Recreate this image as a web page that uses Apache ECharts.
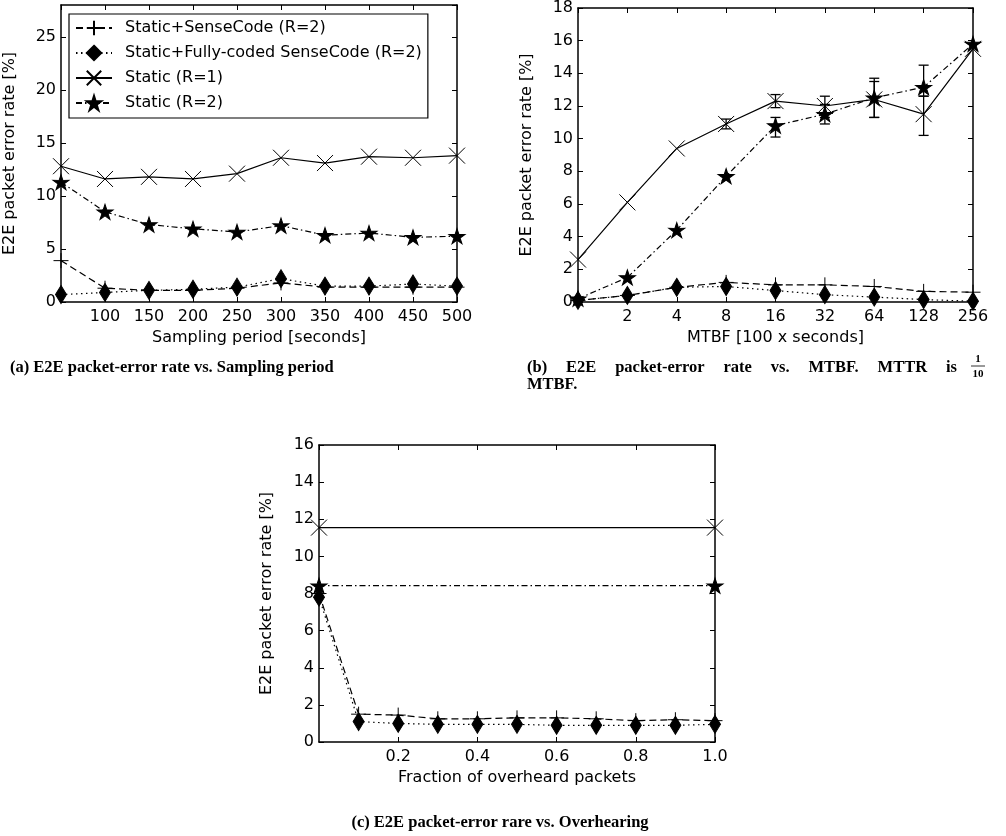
<!DOCTYPE html>
<html>
<head>
<meta charset="utf-8">
<script src="https://cdn.jsdelivr.net/npm/echarts@6/dist/echarts.min.js"></script>
<style>
	html, body { margin: 0; padding: 0; background: #fff; }
	#main { width: 1006px; height: 836px; }
</style>
</head>
<body>
<div id="main"></div>
<script>
// (a) sampling period
var samplingPeriods = [50, 100, 150, 200, 250, 300, 350, 400, 450, 500];
var aSenseCode = [3.9, 1.3, 1.1, 1.1, 1.3, 1.8, 1.4, 1.4, 1.4, 1.4];
var aFullyCoded = [0.7, 0.9, 1.1, 1.2, 1.4, 2.2, 1.5, 1.5, 1.7, 1.5];
var aStaticR1 = [12.8, 11.6, 11.8, 11.6, 12.1, 13.6, 13.1, 13.7, 13.6, 13.8];
var aStaticR2 = [11.3, 8.5, 7.3, 6.9, 6.6, 7.2, 6.3, 6.5, 6.1, 6.2];

// (b) MTBF [100 x seconds]
var mtbf = ['1', '2', '4', '8', '16', '32', '64', '128', '256'];
var bSenseCode = [0.1, 0.4, 0.9, 1.2, 1.05, 1.05, 0.95, 0.65, 0.6];
var bFullyCoded = [0.1, 0.4, 0.9, 0.95, 0.7, 0.45, 0.3, 0.15, 0.05];
var bStaticR1 = [2.6, 6.1, 9.4, 10.9, 12.3, 12.0, 12.4, 11.5, 15.5];
var bStaticR2 = [0.2, 1.5, 4.4, 7.7, 10.8, 11.5, 12.5, 13.15, 15.8];
// error bars: [category, low, high]
var bStaticR1Err = [[3, 10.6, 11.2], [4, 11.9, 12.7], [5, 11.3, 12.6], [6, 11.3, 13.5], [7, 10.2, 12.6]];
var bStaticR2Err = [[4, 10.1, 11.3], [5, 10.9, 12.1], [6, 11.3, 13.7], [7, 12.6, 14.5]];

// (c) fraction of overheard packets
var fraction = [0, 0.1, 0.2, 0.3, 0.4, 0.5, 0.6, 0.7, 0.8, 0.9, 1.0];
var cSenseCode = [8.0, 1.5, 1.45, 1.25, 1.25, 1.3, 1.3, 1.25, 1.15, 1.2, 1.15];
var cFullyCoded = [7.8, 1.1, 1.0, 0.95, 0.95, 0.95, 0.9, 0.9, 0.9, 0.9, 0.95];
var cStaticFraction = [0, 1.0];
var cStaticR1 = [11.55, 11.55];
var cStaticR2 = [8.42, 8.42];

var names = ['Static+SenseCode (R=2)', 'Static+Fully-coded SenseCode (R=2)', 'Static (R=1)', 'Static (R=2)'];

var FONT = 'DejaVu Sans';
var CAPTION_FONT = 'bold 16.5px "Liberation Serif"';

var PLUS = 'path://M0,50L100,50M50,0L50,100';
var CROSS = 'path://M0,0L100,100M0,100L100,0';
var STAR = 'path://M50,0L61.2,34.6L97.6,34.5L68.1,55.9L79.4,90.5L50,69L20.6,90.5L31.9,55.9L2.4,34.5L38.8,34.6Z';

var styles = [
	{ symbol: PLUS, size: 15, dash: [7, 4] },
	{ symbol: 'diamond', size: [11, 18], dash: [1.5, 3.5] },
	{ symbol: CROSS, size: 16, dash: 'solid' },
	{ symbol: STAR, size: [16, 15], dash: [6, 3, 1.5, 3] }
];

function zip(xs, ys) {
	var out = [];
	for (var i = 0; i < xs.length; i++) {
		out.push([xs[i], ys[i]]);
	}
	return out;
}

function lineSeries(k, data, xi, yi) {
	var s = styles[k];
	return {
		name: names[k],
		type: 'line',
		xAxisIndex: xi,
		yAxisIndex: yi,
		data: data,
		symbol: s.symbol,
		symbolSize: s.size,
		showAllSymbol: true,
		color: '#000',
		lineStyle: { color: '#000', width: 1.2, type: s.dash },
		itemStyle: { color: '#000', borderColor: '#000', borderWidth: 1 },
		z: 3 + k
	};
}

function errSeries(data, xi, yi) {
	return {
		type: 'custom',
		xAxisIndex: xi,
		yAxisIndex: yi,
		data: data,
		encode: { x: 0, y: [1, 2] },
		z: 10,
		renderItem: function(params, api) {
			var lo = api.coord([api.value(0), api.value(1)]);
			var hi = api.coord([api.value(0), api.value(2)]);
			var w = 5;
			var st = { stroke: '#000', lineWidth: 1.3 };
			return {
				type: 'group',
				children: [
					{ type: 'line', shape: { x1: lo[0], y1: lo[1], x2: hi[0], y2: hi[1] }, style: st },
					{ type: 'line', shape: { x1: lo[0] - w, y1: lo[1], x2: lo[0] + w, y2: lo[1] }, style: st },
					{ type: 'line', shape: { x1: hi[0] - w, y1: hi[1], x2: hi[0] + w, y2: hi[1] }, style: st }
				]
			};
		}
	};
}

function frameAxis(extra) {
	var ax = {
		axisLine: { show: true, onZero: false, lineStyle: { color: '#000', width: 1.5 } },
		axisTick: { show: true, inside: true, length: 5, lineStyle: { color: '#000', width: 1 } },
		splitLine: { show: false },
		axisLabel: { show: false }
	};
	for (var key in extra) ax[key] = extra[key];
	return ax;
}

function captionText(x, y, text, align) {
	return { type: 'text', x: x, y: y, style: { text: text, font: CAPTION_FONT, fill: '#000',
		textAlign: align || 'left', textVerticalAlign: 'middle' } };
}

// the (b) caption is a justified latex line: spread the words between x0 and x1
function justified(words, x0, x1, y) {
	var ctx = document.createElement('canvas').getContext('2d');
	ctx.font = CAPTION_FONT;
	var total = 0;
	var widths = [];
	for (var i = 0; i < words.length; i++) {
		widths.push(ctx.measureText(words[i]).width);
		total += widths[i];
	}
	var gap = (x1 - x0 - total) / (words.length - 1);
	var out = [];
	var x = x0;
	for (var j = 0; j < words.length; j++) {
		out.push(captionText(x, y, words[j]));
		x += widths[j] + gap;
	}
	return out;
}

var labelStyle = { color: '#000', fontFamily: FONT, fontSize: 16 };
var nameStyle = { color: '#000', fontFamily: FONT, fontSize: 16 };
var yName = 'E2E packet error rate [%]';

var graphics = [
	captionText(10, 368, '(a) E2E packet-error rate vs. Sampling period'),
	captionText(527, 385, 'MTBF.'),
	captionText(500, 823, '(c) E2E packet-error rare vs. Overhearing', 'center'),
	{ type: 'text', x: 978, y: 359, style: { text: '1', font: 'bold 11px "Liberation Serif"', fill: '#000',
		textAlign: 'center', textVerticalAlign: 'middle' } },
	{ type: 'line', shape: { x1: 971, y1: 366, x2: 985, y2: 366 }, style: { stroke: '#000', lineWidth: 0.8 } },
	{ type: 'text', x: 978, y: 374, style: { text: '10', font: 'bold 11px "Liberation Serif"', fill: '#000',
		textAlign: 'center', textVerticalAlign: 'middle' } }
].concat(justified(['(b)', 'E2E', 'packet-error', 'rate', 'vs.', 'MTBF.', 'MTTR', 'is'], 527, 957, 368));

var myChart = echarts.init(document.getElementById('main'));

var option = {
	animation: false,
	backgroundColor: '#fff',
	grid: [
		{ left: 61, top: 5, width: 396, height: 297 },
		{ left: 578, top: 5, width: 395, height: 297 },
		{ left: 319, top: 445, width: 396, height: 297 }
	],
	legend: {
		data: names,
		orient: 'vertical',
		left: 69,
		top: 14,
		padding: [5, 6, 6, 6],
		itemGap: 7,
		itemWidth: 36,
		itemHeight: 18,
		backgroundColor: '#fff',
		borderColor: '#000',
		borderWidth: 1.2,
		borderRadius: 0,
		selectedMode: false,
		textStyle: { color: '#000', fontFamily: FONT, fontSize: 16, lineHeight: 18, padding: [0, 0, 0, 8] }
	},
	xAxis: [
		frameAxis({ type: 'value', gridIndex: 0, min: 50, max: 500, interval: 50,
			name: 'Sampling period [seconds]', nameLocation: 'middle', nameGap: 28, nameTextStyle: nameStyle,
			axisLabel: { show: true, showMinLabel: false, margin: 7, textStyle: labelStyle } }),
		frameAxis({ type: 'value', gridIndex: 0, position: 'top', min: 50, max: 500, interval: 50 }),
		frameAxis({ type: 'category', gridIndex: 1, data: mtbf, boundaryGap: false,
			name: 'MTBF [100 x seconds]', nameLocation: 'middle', nameGap: 28, nameTextStyle: nameStyle,
			axisLabel: { show: true, margin: 7, textStyle: labelStyle, interval: 0,
				formatter: function(v) { return v === '1' ? '' : v; } } }),
		frameAxis({ type: 'category', gridIndex: 1, position: 'top', data: mtbf, boundaryGap: false }),
		frameAxis({ type: 'value', gridIndex: 2, min: 0, max: 1, interval: 0.2,
			name: 'Fraction of overheard packets', nameLocation: 'middle', nameGap: 28, nameTextStyle: nameStyle,
			axisLabel: { show: true, showMinLabel: false, margin: 7, textStyle: labelStyle,
				formatter: function(v) { return v.toFixed(1); } } }),
		frameAxis({ type: 'value', gridIndex: 2, position: 'top', min: 0, max: 1, interval: 0.2 })
	],
	yAxis: [
		frameAxis({ type: 'value', gridIndex: 0, min: 0, max: 28, interval: 5,
			name: yName, nameLocation: 'middle', nameGap: 43, nameTextStyle: nameStyle,
			axisLabel: { show: true, showMaxLabel: false, margin: 5, textStyle: labelStyle } }),
		frameAxis({ type: 'value', gridIndex: 0, position: 'right', min: 0, max: 28, interval: 5 }),
		frameAxis({ type: 'value', gridIndex: 1, min: 0, max: 18, interval: 2,
			name: yName, nameLocation: 'middle', nameGap: 43, nameTextStyle: nameStyle,
			axisLabel: { show: true, margin: 5, textStyle: labelStyle } }),
		frameAxis({ type: 'value', gridIndex: 1, position: 'right', min: 0, max: 18, interval: 2 }),
		frameAxis({ type: 'value', gridIndex: 2, min: 0, max: 16, interval: 2,
			name: yName, nameLocation: 'middle', nameGap: 44, nameTextStyle: nameStyle,
			axisLabel: { show: true, margin: 5, textStyle: labelStyle } }),
		frameAxis({ type: 'value', gridIndex: 2, position: 'right', min: 0, max: 16, interval: 2 })
	],
	series: [
		lineSeries(0, zip(samplingPeriods, aSenseCode), 0, 0),
		lineSeries(1, zip(samplingPeriods, aFullyCoded), 0, 0),
		lineSeries(2, zip(samplingPeriods, aStaticR1), 0, 0),
		lineSeries(3, zip(samplingPeriods, aStaticR2), 0, 0),

		lineSeries(0, bSenseCode, 2, 2),
		lineSeries(1, bFullyCoded, 2, 2),
		lineSeries(2, bStaticR1, 2, 2),
		lineSeries(3, bStaticR2, 2, 2),
		errSeries(bStaticR1Err, 2, 2),
		errSeries(bStaticR2Err, 2, 2),

		lineSeries(0, zip(fraction, cSenseCode), 4, 4),
		lineSeries(1, zip(fraction, cFullyCoded), 4, 4),
		lineSeries(2, zip(cStaticFraction, cStaticR1), 4, 4),
		lineSeries(3, zip(cStaticFraction, cStaticR2), 4, 4)
	],
	graphic: graphics
};

myChart.setOption(option);
</script>
</body>
</html>
